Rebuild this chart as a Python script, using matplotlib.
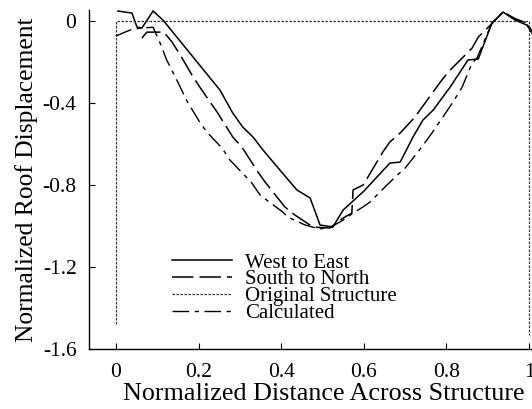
import matplotlib
matplotlib.use("Agg")
import matplotlib.pyplot as plt

plt.rcParams['font.family'] = ['Liberation Serif', 'DejaVu Serif']

# West to East (solid)
we_x = [0.005, 0.039, 0.051, 0.063, 0.090, 0.114, 0.252, 0.283, 0.307, 0.332, 0.356, 0.397,
        0.438, 0.470, 0.487, 0.494, 0.525, 0.550, 0.600, 0.663, 0.688, 0.719, 0.743, 0.768,
        0.809, 0.852, 0.877, 0.910, 0.937, 0.966, 0.995, 1.007]
we_y = [0.049, 0.039, -0.029, -0.034, 0.049, 0.005, -0.337, -0.449, -0.517, -0.566, -0.629, -0.727,
        -0.824, -0.863, -0.956, -0.995, -1.005, -0.922, -0.830, -0.693, -0.688, -0.566, -0.483, -0.434,
        -0.322, -0.190, -0.185, -0.010, 0.044, 0.005, -0.020, -0.059]

# South to North (long dash)
sn_x = [0.063, 0.075, 0.116, 0.136, 0.160, 0.184, 0.203, 0.228, 0.245, 0.283, 0.305, 0.344,
        0.361, 0.409, 0.433, 0.477, 0.518, 0.550, 0.571, 0.574, 0.598, 0.610, 0.646, 0.663,
        0.688, 0.724, 0.741, 0.785, 0.804, 0.862, 0.877, 0.906, 0.937, 0.966, 0.995, 1.007]
sn_y = [-0.083, -0.054, -0.054, -0.102, -0.180, -0.263, -0.322, -0.395, -0.444, -0.566, -0.615, -0.737,
        -0.785, -0.907, -0.946, -1.005, -1.010, -0.961, -0.937, -0.824, -0.800, -0.761, -0.639, -0.590,
        -0.546, -0.468, -0.420, -0.298, -0.249, -0.132, -0.078, -0.020, 0.044, 0.012, -0.010, -0.050]

# Original Structure (dotted outline)
os_x = [0.0, 0.0, 1.0, 1.0]
os_y = [-1.48, 0.0, 0.0, -1.53]

# Calculated (dash-dot)
ca_x = [0.0, 0.022, 0.041, 0.063, 0.090, 0.107, 0.123, 0.150, 0.172, 0.203, 0.220, 0.257,
        0.276, 0.329, 0.349, 0.404, 0.416, 0.458, 0.494, 0.525, 0.550, 0.574, 0.598, 0.615,
        0.651, 0.676, 0.700, 0.731, 0.765, 0.816, 0.838, 0.862, 0.874, 0.910, 0.937, 0.966,
        0.995, 1.007]
ca_y = [-0.073, -0.054, -0.039, -0.034, -0.030, -0.107, -0.190, -0.298, -0.390, -0.493, -0.541, -0.620,
        -0.678, -0.790, -0.849, -0.932, -0.956, -0.995, -1.015, -1.000, -0.971, -0.937, -0.907, -0.883,
        -0.810, -0.761, -0.717, -0.639, -0.546, -0.395, -0.322, -0.205, -0.180, -0.010, 0.044, 0.008,
        -0.015, -0.055]

xticks = [0, 0.2, 0.4, 0.6, 0.8, 1.0]
xticklabels = ['0', '0.2', '0.4', '0.6', '0.8', '1']
yticks = [0, -0.4, -0.8, -1.2, -1.6]
yticklabels = ['0', '-0.4', '-0.8', '-1.2', '-1.6']

fig = plt.figure(figsize=(5.32, 4.09), dpi=100)
ax = fig.add_axes([89/532, 1 - 349/409, 1 - 89/532, (349 - 10)/409])

ax.plot(we_x, we_y, color='black', lw=1.1, label='West to East')
ax.plot(sn_x, sn_y, color='black', lw=1.1, dashes=(14, 4), label='South to North')
ax.plot(os_x, os_y, color='#333333', lw=0.9, dashes=(2, 1.2), label='Original Structure')
ax.plot(ca_x, ca_y, color='black', lw=1.0, dashes=(12, 4, 3, 4), label='Calculated')

ax.set_xlim(-0.065, 1.007)
ax.set_ylim(-1.6, 0.054)
ax.set_xticks(xticks)
ax.set_xticklabels(xticklabels)
ax.set_yticks(yticks)
ax.set_yticklabels(yticklabels)
ax.tick_params(direction='in', length=4, width=0.8, labelsize=15.5)
ax.tick_params(axis='x', pad=10)
ax.tick_params(axis='y', pad=9)
for s in ['top', 'right']:
    ax.spines[s].set_visible(False)
for s in ['left', 'bottom']:
    ax.spines[s].set_linewidth(1.0)

ax.set_xlabel('Normalized Distance Across Structure', fontsize=18.8)
ax.xaxis.set_label_coords(0.53, -0.1, transform=ax.transAxes)
ax.xaxis.label.set_va('top')
ax.set_ylabel('Normalized Roof Displacement', fontsize=18.4, labelpad=3)

ax.legend(loc='upper left', bbox_to_anchor=(172/532, 1 - 253/409), bbox_transform=fig.transFigure,
          frameon=False, fontsize=15, handlelength=2.9, handletextpad=0.6, labelspacing=-0.13,
          borderpad=0, borderaxespad=0)

fig.savefig('out.png', dpi=100)
